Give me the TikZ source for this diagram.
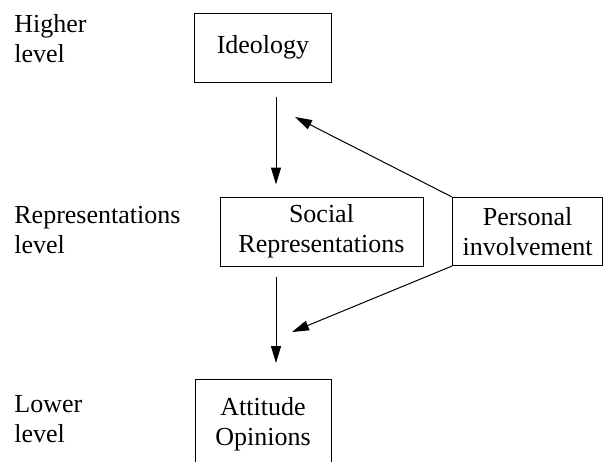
\documentclass[tikz,border=0pt]{standalone}
\usepackage{fontspec}
\setmainfont{Liberation Serif}
\usetikzlibrary{arrows.meta,positioning}

\begin{document}
\begin{tikzpicture}[x=0.5pt,y=-0.5pt,
  box/.style={draw,line width=0.5pt,inner sep=0pt,align=center,font=\fontsize{13}{15}\selectfont},
  levelname/.style={anchor=base west,inner sep=0pt,align=left,font=\fontsize{13}{15}\selectfont},
  arr/.style={-{Triangle[length=8.5pt,width=5pt]},line width=0.5pt}]
  \clip (0,0) rectangle (604,461);
  \useasboundingbox (0,0) rectangle (604,461);
  % levels on the left
  \node[levelname] (higher) at (14,62) {Higher\\level};
  \node[levelname] (repr) at (14,253) {Representations\\level};
  \node[levelname] (lower) at (14,442) {Lower\\level};
  % boxes
  \node[box,minimum width=68.5pt,minimum height=34.5pt] (ideology) at (263,47.5) {Ideology};
  \node[box,minimum width=101.5pt,minimum height=34.5pt] (social) at (321.5,231.5) {Social\\Representations};
  \node[box,minimum width=75pt,minimum height=34pt] (personal) at (527.6,231.5) {Personal\\involvement};
  \node[box,minimum width=68pt,minimum height=45pt,anchor=north] (attitude) at (263,379) {Attitude\\Opinions};
  % arrows
  \coordinate (axis) at (276,0);
  \coordinate (upper) at (295,117);
  \coordinate (lowerend) at (292,332);
  \draw[arr,shorten <=7pt,shorten >=6pt] (ideology.south -| axis) -- (social.north -| axis);
  \draw[arr,shorten <=5pt,shorten >=8pt] (social.south -| axis) -- (attitude.north -| axis);
  \draw[arr] (personal.north west) -- (upper);
  \draw[arr] (personal.south west) -- (lowerend);
\end{tikzpicture}
\end{document}
